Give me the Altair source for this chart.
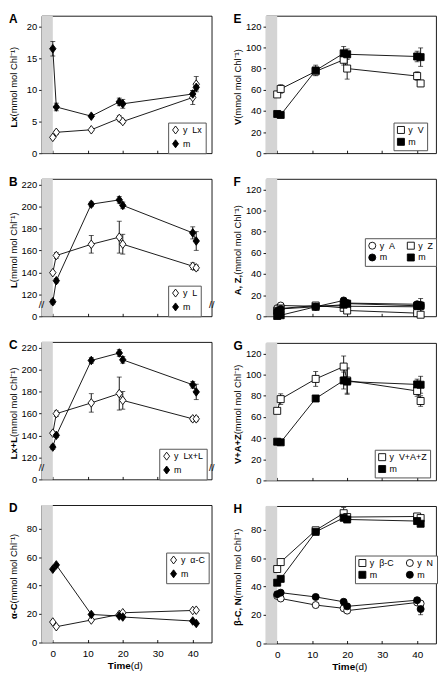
import altair as alt
import pandas as pd

DAYS = [0, 1, 11, 19, 20, 40, 41]
XTICKS = [0, 10, 20, 30, 40]
XDOM = [-3.2, 45.4]

A_Y = [2.5, 3.3, 3.7, 5.5, 5.0, 8.8, 10.9]
A_Y_ERR = [0, 0.3, 0, 0.4, 0.3, 1.1, 1.2]
A_M = [16.5, 7.3, 5.85, 8.1, 7.8, 9.35, 10.4]
A_M_ERR = [1.15, 0.6, 0.2, 0.6, 0.7, 0.5, 0.4]

B_Y = [139.7, 155.3, 165.5, 172.0, 165.6, 145.6, 144.1]
B_Y_ERR = [0, 2.5, 8, 14.5, 9, 3, 2.5]
B_M = [113.2, 132.4, 202.0, 205.9, 200.9, 175.9, 168.5]
B_M_ERR = [2, 2, 2, 3, 3, 5.5, 8.5]

C_Y = [142.1, 159.8, 169.6, 178.1, 171.9, 155.1, 155.1]
C_Y_ERR = [0, 2.5, 8.4, 15, 8, 2, 2]
C_M = [129.4, 140.1, 208.2, 215.0, 208.8, 186.1, 179.6]
C_M_ERR = [2, 2, 2.5, 3, 3, 3, 7]

D_Y = [14.4, 11.1, 15.8, 19.7, 20.9, 22.5, 22.7]
D_M = [51.5, 54.5, 19.7, 18.6, 17.9, 15.1, 13.4]

E_Y = [55.6, 60.8, 77.4, 88.4, 80.1, 73.0, 66.0]
E_Y_ERR = [0, 4, 3, 5, 10, 4, 3]
E_M = [37.1, 36.2, 78.3, 94.5, 93.6, 91.5, 90.9]
E_M_ERR = [0, 0, 5, 6.5, 5, 5, 8.7]

F_YA = [7.7, 10.2, 9.5, 10.0, 9.5, 9.0, 9.0]
F_MA = [5.0, 7.0, 9.0, 15.0, 12.5, 11.4, 10.8]
F_MA_ERR = [0, 0, 0, 0, 0, 0, 6]
F_YZ = [5.2, 7.4, 10.2, 8.0, 5.5, 3.0, 1.5]
F_MZ = [0.3, 1.0, 9.0, 11.0, 12.0, 10.0, 10.0]
ZERO = [0, 0, 0, 0, 0, 0, 0]

G_Y = [65.8, 76.9, 96.0, 107.7, 94.5, 84.6, 75.1]
G_Y_ERR = [0, 5, 7, 10, 12, 5, 5]
G_M = [36.6, 36.0, 77.5, 94.5, 93.5, 90.8, 90.5]
G_M_ERR = [0, 0, 2, 8, 12, 5, 8]

H_YB = [52.3, 57.2, 79.5, 91.5, 88.8, 89.2, 88.1]
H_YB_ERR = [0, 0, 1, 4, 2, 1, 1]
H_MB = [42.7, 45.4, 78.4, 88.3, 87.1, 86.0, 84.1]
H_YN = [33.4, 31.6, 27.0, 24.7, 23.1, 28.8, 28.1]
H_MN = [34.6, 35.7, 32.7, 29.3, 26.1, 30.4, 24.2]
H_MN_ERR = [0, 0, 0, 0, 0, 0, 4]

DIAMOND = "M-0.75,0L0,-1L0.75,0L0,1Z"
FONT = "Liberation Sans"
W, H = 172, 139
UNIT = "\u00a0(mmol mol Chl\u207b\u00b9)"
SP = "\u00a0\u00a0"
TX = -33          # x of the y-title / panel letter, relative to the plot
TFS = 9.5         # y-title font size

# approximate Arial / Liberation Sans advance widths (per 1000 em)
REG = {'\u00a0': 278, '(': 333, ')': 333, 'm': 833, 'o': 556, 'l': 222, 'C': 722,
       'h': 556, '\u207b': 584, '\u00b9': 333, 'd': 556, ' ': 278}
BOLD = {'L': 611, 'x': 556, '+': 584, 'V': 667, 'A': 722, 'Z': 611, ',': 278,
        ' ': 278, 'C': 722, '-': 333, 'N': 722, '\u03b1': 611, '\u03b2': 611,
        'T': 611, 'i': 278, 'm': 889, 'e': 556}


def tw(s, table, fs):
    return sum(table.get(ch, 556) for ch in s) * fs / 1000.0


def panel(letter, series, ydom, yticks, ytitle, lx, ly, cols=1, xlab=False,
          brk=False, size=50, symsize=50, order=None):
    rows = []
    for key, vals, errs, shape, fill in series:
        for d, v, e in zip(DAYS, vals, errs):
            rows.append(dict(s=key, day=d, v=v, lo=v - e, hi=v + e, e=e))
    df = pd.DataFrame(rows)
    dfe = df[df.e > 0]
    info = {s[0]: s for s in series}
    keys = order if order else [s[0] for s in series]
    shapes = [info[k][3] for k in keys]
    fills = [info[k][4] for k in keys]

    xs = alt.Scale(domain=XDOM, nice=False, zero=False)
    ys = alt.Scale(domain=ydom, nice=False, zero=False)
    xaxis = alt.Axis(values=XTICKS, labels=xlab, title=None,
                     offset=-3, tickSize=3, domain=False, grid=False,
                     labelPadding=6, format="d", labelFontSize=10,
                     labelFlush=False)
    ykw = dict(values=yticks, title=None, domain=False, grid=False, tickSize=3,
               labelPadding=2, labelFontSize=9.5, labelFlush=False,
               labelOverlap=False)
    if brk:
        ykw["labelExpr"] = "datum.value == 100 ? '0' : datum.label"
    yaxis = alt.Axis(**ykw)

    X = alt.X("day:Q", scale=xs, axis=xaxis)
    Y = alt.Y("v:Q", scale=ys, axis=yaxis)

    leg = alt.Legend(title=None, orient="none", legendX=lx, legendY=ly,
                     strokeColor="#555", fillColor="white", padding=3,
                     labelFontSize=9, labelFont=FONT, symbolSize=symsize,
                     symbolStrokeWidth=0.9,
                     columns=cols, rowPadding=1, columnPadding=10,
                     labelOffset=3, cornerRadius=0)

    band = alt.Chart(pd.DataFrame({"a": [XDOM[0]], "b": [0]})).mark_rect(
        color="#d4d4d4").encode(x=alt.X("a:Q", scale=xs, axis=xaxis), x2="b:Q")
    lines = alt.Chart(df).mark_line(color="black", strokeWidth=0.9).encode(
        x=X, y=Y, detail="s:N")
    rule = alt.Chart(dfe).mark_rule(color="black", strokeWidth=0.9).encode(
        x=X, y=alt.Y("lo:Q", scale=ys, axis=yaxis), y2="hi:Q")
    cap1 = alt.Chart(dfe).mark_tick(orient="horizontal", size=5, thickness=0.9,
                                    color="black").encode(
        x=X, y=alt.Y("lo:Q", scale=ys, axis=yaxis))
    cap2 = alt.Chart(dfe).mark_tick(orient="horizontal", size=5, thickness=0.9,
                                    color="black").encode(
        x=X, y=alt.Y("hi:Q", scale=ys, axis=yaxis))
    pts = alt.Chart(df).mark_point(filled=True, strokeWidth=0.9,
                                   size=size, opacity=1).encode(
        x=X, y=Y,
        shape=alt.Shape("s:N", scale=alt.Scale(domain=keys, range=shapes), legend=leg),
        fill=alt.Fill("s:N", scale=alt.Scale(domain=keys, range=fills), legend=leg),
        stroke=alt.Stroke("s:N", scale=alt.Scale(domain=keys,
                                                 range=["black"] * len(keys)),
                          legend=leg),
    )
    lab = alt.Chart(pd.DataFrame({"t": [letter]})).mark_text(
        align="left", baseline="top", fontSize=12, fontWeight="bold", font=FONT,
        color="black").encode(text="t:N", x=alt.value(TX), y=alt.value(-2))

    # y title: bold quantity + regular unit, rotated
    wb = tw(ytitle, BOLD, TFS)
    wn = tw(UNIT, REG, TFS)
    ya = H / 2 - (wb - wn) / 2
    tdf = pd.DataFrame({"b": [ytitle], "n": [UNIT]})
    tb = alt.Chart(tdf).mark_text(angle=270, align="right", baseline="top",
                                  fontSize=TFS, fontWeight="bold", font=FONT,
                                  color="black").encode(
        text="b:N", x=alt.value(TX), y=alt.value(ya))
    tn = alt.Chart(tdf).mark_text(angle=270, align="left", baseline="top",
                                  fontSize=TFS, font=FONT, color="black").encode(
        text="n:N", x=alt.value(TX), y=alt.value(ya))
    layers = [band, lines, rule, cap1, cap2, pts, lab, tb, tn]
    if xlab:
        xb, xn = "Time", "\u00a0(d)"
        xa = W / 2 - (tw(xn, REG, 10) - tw(xb, BOLD, 10)) / 2
        xdf = pd.DataFrame({"b": [xb], "n": [xn]})
        layers.append(alt.Chart(xdf).mark_text(
            align="right", baseline="top", fontSize=10, fontWeight="bold",
            font=FONT, color="black").encode(
            text="b:N", x=alt.value(xa), y=alt.value(H + 19)))
        layers.append(alt.Chart(xdf).mark_text(
            align="left", baseline="top", fontSize=10, font=FONT,
            color="black").encode(
            text="n:N", x=alt.value(xa), y=alt.value(H + 19)))
    if brk:
        bdf = pd.DataFrame({"yb": [110, 110], "t": ["//", "//"], "side": ["l", "r"]})
        bl = alt.Chart(bdf).transform_filter("datum.side == 'l'").mark_text(
            fontSize=10, font=FONT, color="black").encode(
            text="t:N", x=alt.value(0), y=alt.Y("yb:Q", scale=ys, axis=yaxis))
        br = alt.Chart(bdf).transform_filter("datum.side == 'r'").mark_text(
            fontSize=10, font=FONT, color="black").encode(
            text="t:N", x=alt.value(W), y=alt.Y("yb:Q", scale=ys, axis=yaxis))
        layers += [bl, br]
    return alt.layer(*layers).properties(width=W, height=H)


pA = panel("A", [("y" + SP + "Lx", A_Y, A_Y_ERR, DIAMOND, "white"),
                 ("m", A_M, A_M_ERR, DIAMOND, "black")],
           [0, 21.7], [0, 5, 10, 15, 20], "Lx", 128, 108, size=75, symsize=65)
pB = panel("B", [("y" + SP + "L", B_Y, B_Y_ERR, DIAMOND, "white"),
                 ("m", B_M, B_M_ERR, DIAMOND, "black")],
           [100, 225], [100, 120, 140, 160, 180, 200, 220], "L", 128, 108,
           brk=True, size=75, symsize=65)
pC = panel("C", [("y" + SP + "Lx+L", C_Y, C_Y_ERR, DIAMOND, "white"),
                 ("m", C_M, C_M_ERR, DIAMOND, "black")],
           [100, 225], [100, 120, 140, 160, 180, 200, 220], "Lx+L", 119, 108,
           brk=True, size=75, symsize=65)
pD = panel("D", [("y" + SP + "\u03b1-C", D_Y, ZERO, DIAMOND, "white"),
                 ("m", D_M, ZERO, DIAMOND, "black")],
           [0, 96.5], [0, 20, 40, 60, 80], "\u03b1-C", 126, 48, xlab=True,
           size=75, symsize=65)

pE = panel("E", [("y" + SP + "V", E_Y, E_Y_ERR, "square", "white"),
                 ("m", E_M, E_M_ERR, "square", "black")],
           [0, 130], [0, 20, 40, 60, 80, 100, 120], "V", 129, 108)
pF = panel("F", [("y" + SP + "A", F_YA, ZERO, "circle", "white"),
                 ("y" + SP + "Z", F_YZ, ZERO, "square", "white"),
                 ("m", F_MA, F_MA_ERR, "circle", "black"),
                 ("m\u00a0", F_MZ, ZERO, "square", "black")],
           [0, 130], [0, 20, 40, 60, 80, 100, 120], "A, Z,", 100, 60, cols=2,
           order=["y" + SP + "A", "m", "y" + SP + "Z", "m\u00a0"])
pG = panel("G", [("y" + SP + "V+A+Z", G_Y, G_Y_ERR, "square", "white"),
                 ("m", G_M, G_M_ERR, "square", "black")],
           [0, 130], [0, 20, 40, 60, 80, 100, 120], "V+A+Z", 110, 108)
pH = panel("H", [("y" + SP + "\u03b2-C", H_YB, H_YB_ERR, "square", "white"),
                 ("y" + SP + "N", H_YN, ZERO, "circle", "white"),
                 ("m", H_MB, ZERO, "square", "black"),
                 ("m\u00a0", H_MN, H_MN_ERR, "circle", "black")],
           [0, 96.5], [0, 20, 40, 60, 80], "\u03b2-C, N", 90, 50, cols=2, xlab=True,
           order=["y" + SP + "\u03b2-C", "m", "y" + SP + "N", "m\u00a0"])


def indep(c):
    return c.resolve_scale(shape="independent", fill="independent",
                           stroke="independent",
                           x="independent", y="independent").resolve_legend(
        shape="independent", fill="independent", stroke="independent")


left = indep(alt.vconcat(pA, pB, pC, pD, spacing=17))
right = indep(alt.vconcat(pE, pF, pG, pH, spacing=17))
chart = indep(alt.hconcat(left, right, spacing=17)).properties(
    padding=0).configure(
    font=FONT
).configure_view(stroke="black", strokeWidth=0.9).configure_axis(
    labelFont=FONT, titleFont=FONT, labelColor="black", titleColor="black",
    tickColor="black", tickWidth=0.9
).configure_legend(labelColor="black")

chart.save("out.html", embed_options={"renderer": "svg", "actions": False})
